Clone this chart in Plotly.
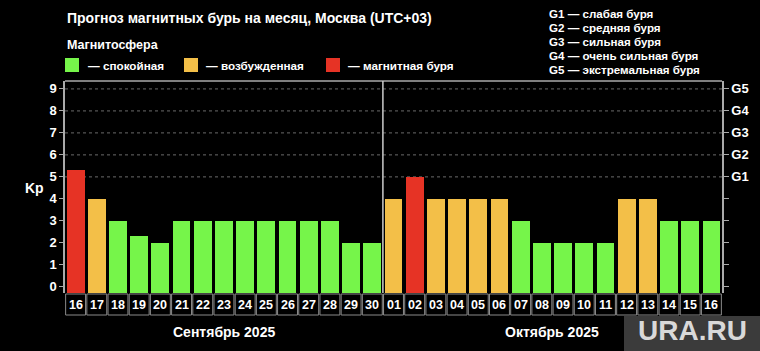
import plotly.graph_objects as go

# ---------------- data ----------------
days = ["16", "17", "18", "19", "20", "21", "22", "23", "24", "25", "26", "27", "28", "29", "30",
        "01", "02", "03", "04", "05", "06", "07", "08", "09", "10", "11", "12", "13", "14", "15", "16"]
kp = [5.33, 4, 3, 2.33, 2, 3, 3, 3, 3, 3, 3, 3, 3, 2, 2,
      4, 5, 4, 4, 4, 4, 3, 2, 2, 2, 2, 4, 4, 3, 3, 3]
status = ["storm", "active", "quiet", "quiet", "quiet", "quiet", "quiet", "quiet", "quiet", "quiet",
          "quiet", "quiet", "quiet", "quiet", "quiet",
          "active", "storm", "active", "active", "active", "active", "quiet", "quiet", "quiet", "quiet",
          "quiet", "active", "active", "quiet", "quiet", "quiet"]
months = ["Сентябрь 2025", "Октябрь 2025"]
month_len = [15, 16]
y_ticks = list(range(10))
g_levels = [5, 6, 7, 8, 9]
g_labels = ["G1", "G2", "G3", "G4", "G5"]
g_desc = ["G1 — слабая буря", "G2 — средняя буря", "G3 — сильная буря",
          "G4 — очень сильная буря", "G5 — экстремальная буря"]
legend_keys = ["quiet", "active", "storm"]
legend_text = ["— спокойная", "— возбужденная", "— магнитная буря"]

colors = {"quiet": "#76F54A", "active": "#F3BF48", "storm": "#E63325"}

FONT = "Liberation Sans, Arial, sans-serif"
W, H = 760, 351
L, R, T, B = 65, 38, 81, 58
PW, PH = W - L - R, H - T - B
BASE = -0.28


def px(x):
    return (x - L) / PW


def py(y):
    return (H - B - y) / PH


xs = list(range(len(days)))

fig = go.Figure()
fig.add_trace(go.Bar(
    x=xs, y=[v - BASE for v in kp], base=BASE,
    marker=dict(color=[colors[s] for s in status], line=dict(width=0)),
    width=0.84, showlegend=False, hoverinfo="skip",
))
fig.add_trace(go.Scatter(x=[0], y=[0], yaxis="y2", mode="markers",
                         marker=dict(opacity=0), showlegend=False, hoverinfo="skip"))

yr = [BASE, 9.36]
fig.update_layout(
    width=W, height=H,
    margin=dict(l=L, r=R, t=T, b=B),
    paper_bgcolor="black", plot_bgcolor="black",
    font=dict(family=FONT, color="white"),
    bargap=0,
    xaxis=dict(range=[-0.5, len(days) - 0.5], showticklabels=False, ticks="",
               showgrid=False, zeroline=False, showline=False, fixedrange=True),
    yaxis=dict(range=yr, tickvals=y_ticks, ticktext=[f"<b>{v}</b>" for v in y_ticks],
               ticks="outside", ticklen=4, tickcolor="#aaaaaa", tickwidth=1,
               tickfont=dict(size=13, color="white", family=FONT),
               showgrid=False, zeroline=False,
               showline=True, linecolor="#aaaaaa", linewidth=1.5),
    yaxis2=dict(range=yr, overlaying="y", side="right",
                tickvals=y_ticks,
                ticktext=["" for _ in range(5)] + [f"<b>{g}</b>" for g in g_labels],
                ticks="outside", ticklen=5, tickcolor="#aaaaaa", tickwidth=1,
                tickfont=dict(size=13, color="white", family=FONT),
                showgrid=False, zeroline=False,
                showline=True, linecolor="#aaaaaa", linewidth=1.5),
)

shapes = []
for g in g_levels:
    shapes.append(dict(type="line", xref="paper", yref="y", x0=0, x1=1, y0=g, y1=g,
                       line=dict(color="#6a6a6a", width=1, dash="dot"), layer="below"))
shapes.append(dict(type="line", xref="paper", yref="paper", x0=0, x1=1, y0=1, y1=1,
                   line=dict(color="#aaaaaa", width=1.5)))
sep = month_len[0] - 0.5
shapes.append(dict(type="line", xref="x", yref="paper", x0=sep, x1=sep, y0=0, y1=1,
                   line=dict(color="#cccccc", width=1.5)))
for i in xs:
    shapes.append(dict(type="rect", xref="x", yref="paper", x0=i - 0.47, x1=i + 0.47,
                       y0=py(315), y1=py(294), line=dict(color="#8a8a8a", width=1),
                       fillcolor="black"))
sq_x = [65, 184, 326]
for k, x0 in zip(legend_keys, sq_x):
    shapes.append(dict(type="rect", xref="paper", yref="paper", x0=px(x0), x1=px(x0 + 14),
                       y0=py(72), y1=py(58), fillcolor=colors[k], line=dict(width=0)))
shapes.append(dict(type="rect", xref="paper", yref="paper", x0=px(624), x1=px(762),
                   y0=py(353), y1=py(316), fillcolor="#3b3b3b", line=dict(width=0)))


def add_text(ann, x, y, text, size, xanchor="center", xref="paper", color="white"):
    ann.append(dict(x=x, y=py(y), xref=xref, yref="paper", text=text,
                    xanchor=xanchor, yanchor="middle", showarrow=False,
                    font=dict(size=size, color=color, family=FONT)))


ann = []
for i, d in zip(xs, days):
    add_text(ann, i, 304.5, f"<b>{d}</b>", 12.5, xref="x")
start = 0
for m, n in zip(months, month_len):
    add_text(ann, start + (n - 1) / 2, 332, f"<b>{m}</b>", 14, xref="x")
    start += n
add_text(ann, px(65), 18, "<b>Прогноз магнитных бурь на месяц, Москва (UTC+03)</b>", 14, "left")
add_text(ann, px(65), 45, "<b>Магнитосфера</b>", 12.5, "left")
tx_x = [86, 204, 346]
for t, x0 in zip(legend_text, tx_x):
    add_text(ann, px(x0), 65, f"<b>{t}</b>", 11.7, "left")
for j, t in enumerate(g_desc):
    add_text(ann, px(547), 13 + j * 14.2, f"<b>{t}</b>", 11.6, "left")
add_text(ann, px(34), 188, "<b>Kp</b>", 14)
add_text(ann, px(692), 330, "<b>URA.RU</b>", 28, color="#d9d9d9")

fig.update_layout(shapes=shapes, annotations=ann)
fig.write_html("out.html")
